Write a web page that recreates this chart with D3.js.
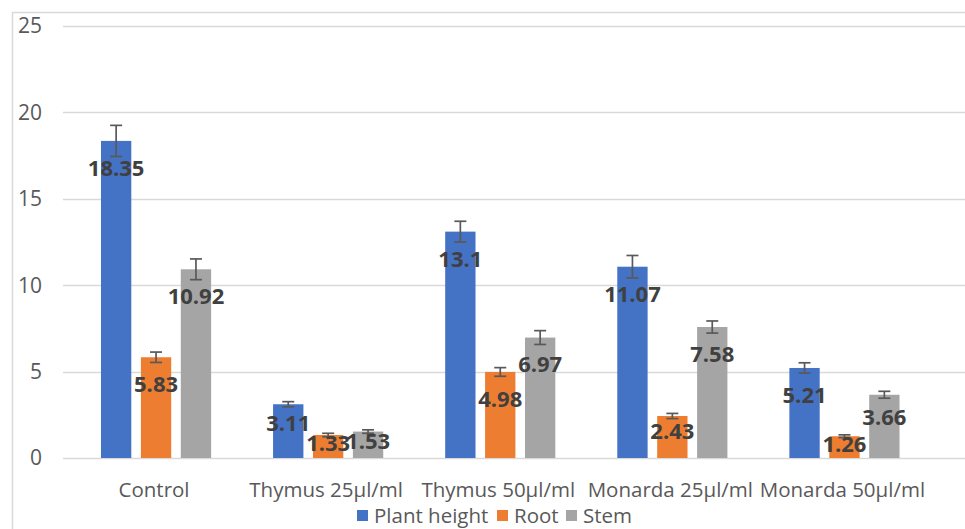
<!DOCTYPE html>
<html>
<head>
<meta charset="utf-8">
<script src="https://cdn.jsdelivr.net/npm/d3@7"></script>
<style>
  html, body { margin: 0; padding: 0; background: #fff; }
  svg { display: block; font-family: "Open Sans", "Segoe UI", sans-serif; }
</style>
</head>
<body>
<svg id="chart" width="965" height="529"></svg>
<script>
const categories = ["Control", "Thymus 25\u00b5l/ml", "Thymus 50\u00b5l/ml", "Monarda 25\u00b5l/ml", "Monarda 50\u00b5l/ml"];
const seriesNames = ["Plant height", "Root", "Stem"];
const plantHeight = [18.35, 3.11, 13.1, 11.07, 5.21];
const root = [5.83, 1.33, 4.98, 2.43, 1.26];
const stem = [10.92, 1.53, 6.97, 7.58, 3.66];
const plantHeightErr = [0.9, 0.15, 0.6, 0.65, 0.3];
const rootErr = [0.3, 0.1, 0.25, 0.15, 0.08];
const stemErr = [0.6, 0.1, 0.4, 0.35, 0.2];
const yTicks = [0, 5, 10, 15, 20, 25];
const colors = ["#4472C4", "#ED7D31", "#A5A5A5"];

const values = [plantHeight, root, stem];
const errors = [plantHeightErr, rootErr, stemErr];

const svg = d3.select("#chart");

// outer chart border (cropped at right/bottom)
svg.append("rect")
  .attr("x", 12.5).attr("y", 12.5)
  .attr("width", 1000).attr("height", 1000)
  .attr("fill", "none").attr("stroke", "#d9d9d9").attr("stroke-width", 1.5);

const y = d3.scaleLinear().domain([0, 25]).range([458, 26]);
const x0 = d3.scaleBand().domain(categories).range([70, 930.5])
  .paddingInner(0.36).paddingOuter(0.18);
const x1 = d3.scaleBand().domain(seriesNames).range([0, x0.bandwidth()])
  .paddingInner(0.24).paddingOuter(0);

// gridlines
svg.append("g").selectAll("line").data(yTicks).join("line")
  .attr("x1", 63).attr("x2", 965)
  .attr("y1", d => Math.round(y(d)) + 0.5).attr("y2", d => Math.round(y(d)) + 0.5)
  .attr("stroke", "#d9d9d9").attr("stroke-width", 1.3);

// y tick labels
svg.append("g").selectAll("text").data(yTicks).join("text")
  .attr("x", 42).attr("y", d => y(d))
  .attr("dy", "0.35em")
  .attr("text-anchor", "end")
  .attr("font-size", 21).attr("fill", "#595959")
  .text(d => d);

// bars data
const rows = [];
categories.forEach((c, i) => {
  seriesNames.forEach((s, j) => {
    rows.push({ cat: c, ser: s, j, v: values[j][i], e: errors[j][i] });
  });
});

const g = svg.append("g");
g.selectAll("rect.bar").data(rows).join("rect")
  .attr("class", "bar")
  .attr("x", d => x0(d.cat) + x1(d.ser))
  .attr("y", d => y(d.v))
  .attr("width", x1.bandwidth())
  .attr("height", d => y(0) - y(d.v))
  .attr("fill", d => colors[d.j]);

// error bars
const cap = 6;
const cx = d => x0(d.cat) + x1(d.ser) + x1.bandwidth() / 2;
const eb = g.selectAll("g.err").data(rows).join("g").attr("class", "err")
  .attr("stroke", "#595959").attr("stroke-width", 1.7);
eb.append("line")
  .attr("x1", cx).attr("x2", cx)
  .attr("y1", d => y(d.v + d.e)).attr("y2", d => y(d.v - d.e));
eb.append("line")
  .attr("x1", d => cx(d) - cap).attr("x2", d => cx(d) + cap)
  .attr("y1", d => y(d.v + d.e)).attr("y2", d => y(d.v + d.e));
eb.append("line")
  .attr("x1", d => cx(d) - cap).attr("x2", d => cx(d) + cap)
  .attr("y1", d => y(d.v - d.e)).attr("y2", d => y(d.v - d.e));

// data labels
g.selectAll("text.lbl").data(rows).join("text")
  .attr("class", "lbl")
  .attr("x", cx)
  .attr("y", d => {
    const h = y(0) - y(d.v);
    return y(d.v) + Math.min(27, h * 0.35);
  })
  .attr("dy", "0.36em")
  .attr("text-anchor", "middle")
  .attr("font-size", 22).attr("font-weight", "bold").attr("fill", "#404040")
  .text(d => d.v);

// category labels
svg.append("g").selectAll("text").data(categories).join("text")
  .attr("x", d => x0(d) + x0.bandwidth() / 2 - 2)
  .attr("y", 497)
  .attr("text-anchor", "middle")
  .attr("font-size", 20.5).attr("fill", "#595959")
  .text(d => d);

// legend
const legendX = [357, 497, 566];
const lg = svg.append("g").selectAll("g").data(seriesNames).join("g")
  .attr("transform", (d, i) => `translate(${legendX[i]},0)`);
lg.append("rect").attr("x", 0).attr("y", 510).attr("width", 11).attr("height", 11)
  .attr("fill", (d, i) => colors[i]);
lg.append("text").attr("x", 17).attr("y", 523)
  .attr("font-size", 20.5).attr("fill", "#595959")
  .text(d => d);
</script>
</body>
</html>
